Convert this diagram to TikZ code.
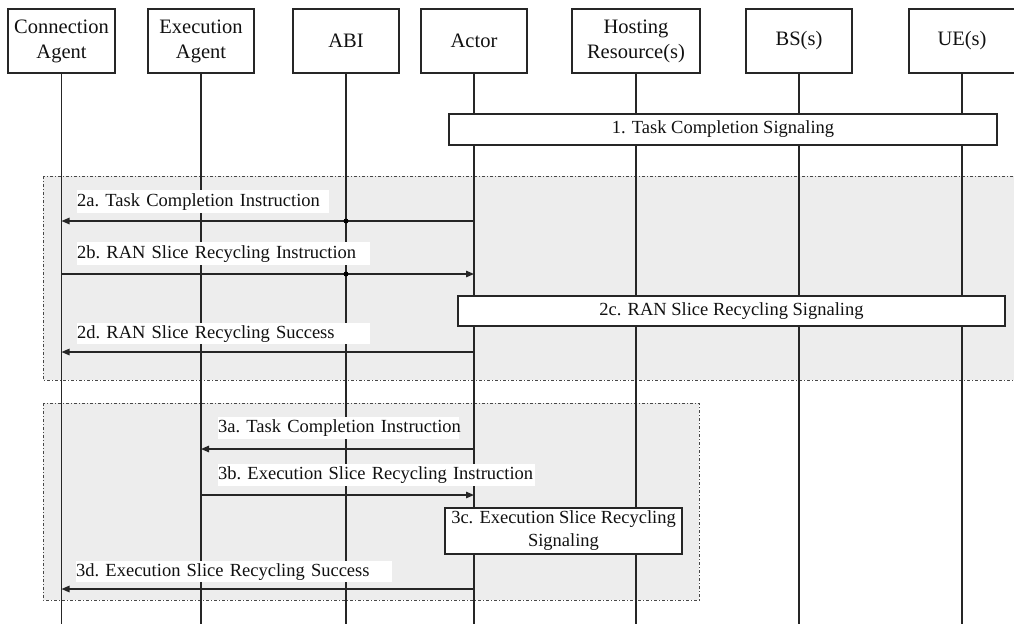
\documentclass[tikz,border=0pt]{standalone}
\usepackage{fontspec}
\setmainfont{Liberation Serif}
\usetikzlibrary{arrows.meta}
\definecolor{ink}{HTML}{262626}
\definecolor{txt}{HTML}{111111}
\definecolor{zone}{HTML}{EDEDED}
\tikzset{
  head/.style={draw=ink, line width=1.3pt, fill=white, minimum height=64pt, inner sep=0pt,
    align=center, text=txt, font=\fontsize{20.5}{25}\selectfont},
  life/.style={draw=ink, line width=1.3pt},
  zonebox/.style={draw=ink!85, fill=zone, line width=1pt, dash pattern=on 3pt off 2pt on 1pt off 2pt},
  stepbox/.style={draw=ink, line width=1.3pt, fill=white, inner sep=0pt, align=center, text=txt,
    font=\fontsize{18.5}{23}\selectfont},
  lbl/.style={fill=white, anchor=north west, inner sep=0pt, align=left, text=txt,
    font=\fontsize{18.5}{22}\selectfont\frenchspacing},
  msg/.style={draw=ink, line width=1.3pt, -{Triangle[length=8pt,width=6.5pt]}},
  hub/.style={fill=black},
}
\begin{document}
\begin{tikzpicture}[x=1pt,y=-1pt]
\useasboundingbox (0,0) rectangle (1014,624);
\clip (0,0) rectangle (1014,624);

% shaded phase groups
\path[zonebox] (43,176) rectangle (1040,380);
\path[zonebox] (43,403) rectangle (699,600);

% participants
\node[head, minimum width=107pt] (ca)  at (61.5,41) {Connection\\Agent};
\node[head, minimum width=106pt] (ea)  at (201,41)  {Execution\\Agent};
\node[head, minimum width=106pt] (abi) at (346,41)  {ABI};
\node[head, minimum width=106pt] (ac)  at (474,41)  {Actor};
\node[head, minimum width=128pt] (hr)  at (636,41)  {Hosting\\Resource(s)};
\node[head, minimum width=106pt] (bs)  at (799,41)  {BS(s)};
\node[head, minimum width=106pt] (ue)  at (962,41)  {UE(s)};

% lifelines
\coordinate (bottom) at (0,624);
\foreach \p in {ca,ea,abi,ac,hr,bs,ue}
  \draw[life] (\p.south) -- (\p |- bottom);

% message rows
\coordinate (r2a) at (0,221);
\coordinate (r2b) at (0,274);
\coordinate (r2d) at (0,352);
\coordinate (r3a) at (0,449);
\coordinate (r3b) at (0,495);
\coordinate (r3d) at (0,589);

% signaling steps spanning several participants
\node[stepbox, minimum width=548pt, minimum height=31pt] (s1)  at (723,129.5) {1. Task Completion Signaling};
\node[stepbox, minimum width=547pt, minimum height=30pt] (s2c) at (731.5,311) {2c. RAN Slice Recycling Signaling};
\node[stepbox, minimum width=237pt, minimum height=46pt] (s3c) at (563.5,531) {3c. Execution Slice Recycling\\Signaling};

% message labels
\node[lbl, text width=252pt, minimum height=23pt] (l2a) at (77,190) {\mbox{2a. Task Completion Instruction}};
\node[lbl, text width=293pt, minimum height=23pt] (l2b) at (77,242) {\mbox{2b. RAN Slice Recycling Instruction}};
\node[lbl, text width=293pt, minimum height=21pt] (l2d) at (77,323) {\mbox{2d. RAN Slice Recycling Success}};
\node[lbl, text width=241pt, minimum height=22pt] (l3a) at (218,417) {\mbox{3a. Task Completion Instruction}};
\node[lbl, text width=317pt, minimum height=22pt] (l3b) at (218,464) {\mbox{3b. Execution Slice Recycling Instruction}};
\node[lbl, text width=316pt, minimum height=21pt] (l3d) at (76,561) {\mbox{3d. Execution Slice Recycling Success}};

% messages
\draw[msg] (ac |- r2a) -- (ca |- r2a);
\draw[msg] (ca |- r2b) -- (ac |- r2b);
\draw[msg] (ac |- r2d) -- (ca |- r2d);
\draw[msg] (ac |- r3a) -- (ea |- r3a);
\draw[msg] (ea |- r3b) -- (ac |- r3b);
\draw[msg] (ac |- r3d) -- (ca |- r3d);

% relay points on the ABI lifeline
\fill[hub] (abi |- r2a) circle (2.5pt);
\fill[hub] (abi |- r2b) circle (2.5pt);
\end{tikzpicture}
\end{document}
